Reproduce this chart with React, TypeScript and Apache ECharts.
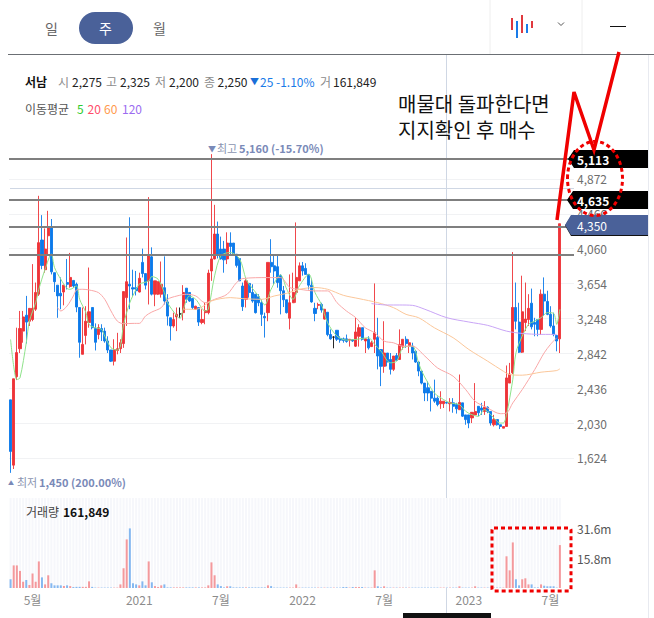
import React, { useEffect, useRef } from "react";
import * as echarts from "echarts";

const FONT = '"Noto Sans CJK KR", "Noto Sans", sans-serif';

const priceTicks = { min: 1218, max: 5278, step: 406 };
const volumeTicks = { max: 47.4, step: 15.8 };
const slotCount = 180;

const tickIndexes = [7, 41, 67, 93, 119, 146, 172];
const tickLabels = ["5월", "2021", "7월", "2022", "7월", "2023", "7월"];

const resistanceLevels = [5106, 4628, 4314, 3988];

// open, close, low, high
const candles: number[][] = [
  [2300, 1700, 1450, 2300], [1540, 2545, 1495, 2545], [2570, 2850, 2530, 3140], [2895, 3130, 2845, 3335],
  [3100, 3265, 2965, 3335], [3285, 3205, 2955, 3510], [3215, 3365, 3160, 3365], [3235, 3365, 3215, 3880],
  [3355, 3550, 3335, 3665], [3530, 4130, 3510, 4675], [4160, 3865, 3820, 4450], [3815, 4055, 3780, 4295],
  [4210, 4315, 3995, 4500], [4315, 3790, 3760, 4405], [3780, 3675, 3555, 3780], [3635, 3510, 3255, 3635],
  [3540, 3510, 3355, 3725], [3555, 3635, 3400, 3635], [3665, 3645, 3585, 3940], [3620, 3725, 3605, 4010],
  [3690, 3625, 3605, 3690], [3645, 3380, 3320, 3665], [3375, 2970, 2790, 3375], [2830, 2945, 2830, 3375],
  [3050, 3215, 2945, 3390], [3200, 3325, 3140, 3840], [3375, 3140, 3120, 3375], [3130, 2970, 2875, 3190],
  [3060, 3140, 3005, 3180], [3130, 3090, 2985, 3180], [3100, 2985, 2965, 3140], [2985, 2880, 2845, 3040],
  [2880, 2750, 2740, 2880], [2750, 2885, 2700, 3005], [2875, 2895, 2830, 3080], [2895, 2965, 2845, 3005],
  [2955, 3560, 2905, 3560], [3490, 3675, 3160, 4190], [3645, 3625, 3355, 4425], [3605, 3590, 3510, 3815],
  [3605, 3570, 3515, 3800], [3555, 3715, 3550, 3780], [3900, 3770, 3725, 4060], [3770, 3635, 3585, 3770],
  [3685, 3985, 3410, 4660], [3965, 3530, 3515, 4075], [3530, 3685, 3390, 3685], [3530, 3675, 3520, 3680],
  [3530, 3645, 3490, 3910], [3605, 3450, 3410, 3970], [3440, 3275, 3165, 3530], [3255, 3160, 2990, 3255],
  [3160, 3235, 3140, 3315], [3265, 3295, 3100, 3375], [3300, 3300, 3255, 3375], [3315, 3550, 3225, 3635],
  [3600, 3470, 3430, 3600], [3550, 3450, 3440, 3550], [3480, 3375, 3355, 3480], [3355, 3390, 3350, 3395],
  [3375, 3205, 3160, 3375], [3200, 3235, 3180, 3355], [3315, 3340, 3180, 3430], [3315, 3775, 3295, 3815],
  [3800, 3940, 3685, 5160], [3940, 4230, 3935, 4570], [4230, 3995, 3945, 4375], [4055, 3940, 3935, 4200],
  [4055, 3930, 3780, 4150], [3940, 4125, 3880, 4250], [4125, 4085, 3995, 4250], [4125, 3995, 3995, 4125],
  [3995, 3865, 3840, 3995], [3945, 3685, 3685, 3945], [3625, 3385, 3335, 3665], [3470, 3685, 3375, 3705],
  [3655, 3550, 3490, 3655], [3550, 3450, 3430, 3645], [3530, 3315, 3305, 3530], [3500, 3430, 3390, 3530],
  [3430, 3295, 3160, 3470], [3270, 3255, 3025, 3315], [3315, 3900, 3215, 3900], [3900, 3850, 3780, 4170],
  [3860, 3800, 3645, 3995], [3850, 3665, 3605, 3995], [3750, 3570, 3295, 3760], [3570, 3465, 3380, 3625],
  [3465, 3315, 3305, 3465], [3250, 3430, 3120, 3760], [3430, 3550, 3430, 3780], [3550, 3725, 3430, 4365],
  [3685, 3860, 3685, 3900], [3860, 3800, 3745, 3905], [3830, 3760, 3760, 3890], [3760, 3635, 3585, 3760],
  [3635, 3440, 3430, 3710], [3365, 3305, 3215, 3430], [3400, 3410, 3355, 3430], [3410, 3345, 3315, 3430],
  [3240, 3355, 3235, 3355], [3320, 3060, 3040, 3320], [3060, 3010, 3000, 3120], [3030, 3030, 2900, 3040],
  [3110, 3005, 2985, 3110], [3015, 2995, 2965, 3040], [3010, 2990, 2965, 3025], [3010, 2980, 2965, 3060],
  [2995, 3005, 2920, 3005], [3000, 2985, 2975, 3005], [2925, 3090, 2915, 3255], [3040, 3140, 2920, 3180],
  [3140, 3005, 2990, 3140], [2985, 3010, 2845, 3010], [3005, 2905, 2885, 3040], [2920, 2965, 2915, 2985],
  [3005, 3080, 2845, 3655], [3025, 2810, 2655, 3255], [2885, 2690, 2460, 2885], [2690, 2845, 2615, 3215],
  [2845, 2740, 2690, 2845], [2770, 2655, 2595, 2845], [2655, 2810, 2635, 2810], [2815, 2760, 2750, 2845],
  [2770, 2945, 2770, 3120], [2925, 3005, 2885, 3005], [3005, 2955, 2905, 3040], [2925, 2965, 2845, 3005],
  [2925, 2845, 2770, 2965], [2865, 2740, 2730, 2880], [2740, 2635, 2575, 2750], [2635, 2495, 2480, 2635],
  [2495, 2380, 2285, 2495], [2440, 2380, 2285, 2515], [2400, 2320, 2165, 2400], [2320, 2285, 2265, 2535],
  [2320, 2245, 2225, 2340], [2255, 2285, 2195, 2400], [2255, 2285, 2205, 2285], [2270, 2262, 2255, 2280],
  [2255, 2270, 2165, 2320], [2265, 2225, 2150, 2320], [2245, 2195, 2140, 2265], [2185, 2270, 2185, 2595],
  [2265, 2110, 2100, 2265], [2125, 2070, 2010, 2125], [2125, 2030, 1970, 2125], [2090, 2155, 2030, 2155],
  [2125, 2165, 2125, 2495], [2225, 2150, 2110, 2225], [2205, 2180, 2125, 2265], [2165, 2215, 2125, 2285],
  [2215, 2165, 2145, 2225], [2165, 2030, 2000, 2165], [2010, 2070, 1990, 2125], [2070, 2010, 2000, 2070],
  [2010, 1990, 1960, 2010], [1970, 1990, 1970, 1990], [1990, 2555, 1990, 2700], [2495, 2600, 2495, 2730],
  [2615, 3375, 2600, 4020], [3375, 3215, 3120, 3665], [3205, 2855, 2845, 3430], [2855, 3325, 2845, 3745],
  [3200, 3240, 3100, 3665], [3235, 3365, 3160, 3530], [3425, 3150, 3120, 3595], [3200, 3180, 3040, 3255],
  [3235, 3120, 3040, 3235], [3120, 3530, 3055, 3585], [3530, 3450, 3275, 3725], [3445, 3295, 3285, 3570],
  [3295, 3160, 3140, 3390], [3160, 3060, 3040, 3315], [3050, 2985, 2865, 3050], [3010, 4350, 2845, 4350],
];

const volumes: number[] = [
  4.6, 11.9, 11.9, 9, 3.3, 4.2, 1.6, 7.7, 3.3, 14,
  5.6, 1.9, 6.7, 2.5, 1.4, 1.4, 1.4, 1, 1.4, 1,
  0.5, 0.6, 0.6, 0.6, 0.6, 3.5, 0.6, 0.2, 0.2, 0.2,
  0.2, 0.2, 0.2, 0.2, 0.2, 1.9, 10.4, 25.6, 31.4, 2.5,
  1.9, 1.4, 3.5, 1.4, 14, 3, 1, 0.5, 1.4, 1.9,
  0.3, 0.3, 0.3, 0.3, 0.3, 0.3, 0.3, 0.3, 0.3, 0.3,
  0.3, 0.3, 0.3, 1.4, 13.5, 6.7, 1.9, 1, 0.3, 0.9,
  0.9, 0.3, 0.3, 0.3, 0.3, 0.3, 0.3, 0.3, 0.3, 0.3,
  0.3, 0.3, 1.4, 1, 0.2, 0.2, 0.2, 0.2, 0.2, 0.2,
  0.2, 1.9, 0.2, 0.2, 0.2, 0.2, 0.2, 0.2, 0.2, 0.2,
  0.2, 0.2, 0.2, 0.2, 0.2, 0.2, 0.5, 0.5, 0.2, 0.5,
  0.5, 0.5, 0.5, 0.2, 0.2, 0.2, 9.3, 0.9, 0.3, 0.9,
  0.2, 0.2, 0.2, 0.2, 0.2, 0.2, 0.2, 0.2, 0.2, 0.2,
  0.2, 0.2, 0.2, 0.2, 0.2, 0.2, 0.2, 0.2, 0.2, 0.2,
  0.2, 0.2, 0.2, 0.9, 0.2, 0.2, 0.2, 0.2, 0.9, 0.2,
  0.2, 0.2, 0.2, 0.2, 0.2, 0.2, 0.2, 0.2, 16.7, 9.3,
  24, 4.6, 1.4, 4.6, 5.1, 1.9, 1.9, 0.3, 0.3, 1.9,
  1.2, 0.9, 0.9, 0.9, 0.2, 22.6,
];

// moving averages, read as [candle index, price]
const ma5: number[][] = [
  [0, 3003], [1, 2692], [2, 2536], [3, 2556], [5, 2964], [6, 3217], [8, 3431], [9, 3587], [11, 3821], [13, 3996],
  [14, 3840], [16, 3704], [18, 3595], [19, 3587], [21, 3626], [22, 3470], [24, 3315], [25, 3178], [27, 3139],
  [29, 3120], [30, 3042], [32, 2906], [34, 2879], [35, 2925], [36, 3178], [38, 3431], [40, 3587], [41, 3646],
  [44, 3684], [45, 3735], [47, 3704], [49, 3548], [50, 3431], [53, 3276], [54, 3248], [55, 3354], [57, 3509],
  [59, 3470], [62, 3334], [63, 3354], [65, 3743], [67, 3976], [70, 4015], [73, 3938], [75, 3704], [76, 3646],
  [79, 3509], [81, 3404], [83, 3587], [86, 3755], [88, 3587], [90, 3470], [92, 3626], [95, 3762], [97, 3548],
  [99, 3412], [101, 3198], [104, 3042], [107, 2995], [110, 3003], [114, 3023], [116, 2945], [118, 2867],
  [121, 2731], [123, 2750], [125, 2906], [128, 2925], [130, 2731], [131, 2633], [133, 2497], [135, 2380],
  [138, 2302], [140, 2264], [143, 2244], [145, 2166], [147, 2127], [149, 2108], [151, 2186], [153, 2127],
  [156, 2030], [157, 2030], [158, 2127], [160, 2536], [161, 2847], [163, 3042], [165, 3178], [167, 3217],
  [169, 3256], [171, 3315], [173, 3307], [174, 3178], [175, 3354],
];
const ma20: number[][] = [
  [15, 3373], [16, 3334], [18, 3392], [20, 3509], [21, 3579], [23, 3587], [25, 3579], [28, 3548], [30, 3470],
  [32, 3334], [34, 3217], [36, 3186], [39, 3190], [41, 3190], [43, 3276], [45, 3322], [48, 3373], [50, 3470],
  [53, 3509], [56, 3529], [59, 3509], [62, 3431], [65, 3470], [69, 3529], [72, 3665], [74, 3712], [82, 3723],
  [86, 3723], [89, 3607], [92, 3587], [97, 3568], [101, 3568], [104, 3431], [107, 3334], [110, 3256],
  [113, 3139], [116, 3081], [119, 2984], [122, 2964], [125, 2925], [128, 2925], [132, 2809], [136, 2672],
  [141, 2575], [145, 2419], [148, 2283], [152, 2205], [156, 2139], [158, 2147], [160, 2264], [163, 2419],
  [167, 2653], [170, 2847], [172, 2945], [174, 3023],
];
const ma60: number[][] = [
  [55, 3354], [59, 3354], [64, 3451], [67, 3478], [70, 3490], [74, 3478], [80, 3470], [84, 3509], [88, 3540],
  [92, 3587], [97, 3607], [101, 3587], [106, 3517], [111, 3478], [117, 3431], [122, 3373], [126, 3295],
  [130, 3256], [135, 3139], [141, 3023], [146, 2886], [152, 2750], [157, 2633], [159, 2594], [163, 2587],
  [169, 2622], [174, 2641], [175, 2661],
];
const ma120: number[][] = [
  [115, 3420], [120, 3404], [124, 3404], [128, 3400], [132, 3354], [139, 3256], [146, 3206], [152, 3167],
  [158, 3100], [163, 3073], [169, 3062], [174, 3062],
];

const RED = "#ee3338";
const BLUE = "#0b79ea";
const dashRed = { stroke: "#f00000", fill: "none", lineWidth: 3, lineDash: [4, 3] };

function label(text: string, x: number, y: number, fill: string, size = 12, weight = "normal", z = 20) {
  return {
    type: "text", x, y, z, silent: true,
    style: { text, fill, font: `${weight} ${size}px ${FONT}`, verticalAlign: "middle", align: "left" },
  };
}
function stroke(points: number[][], color: string, lineWidth = 1, z = 15) {
  return { type: "polyline", z, silent: true, shape: { points }, style: { stroke: color, lineWidth, fill: "none" } };
}
function iconBar(x: number, y: number, h: number, fill: string) {
  return { type: "rect", z: 20, silent: true, shape: { x, y, width: 2, height: h }, style: { fill } };
}
function maSeries(data: number[][], color: string) {
  return {
    type: "line", data, smooth: 0.3, symbol: "none", z: 4, xAxisIndex: 0, yAxisIndex: 0,
    lineStyle: { color, width: 1 }, silent: true,
  };
}

export default function App() {
  const ref = useRef<HTMLDivElement>(null);
  useEffect(() => {
    const chart = echarts.init(ref.current!, null, { renderer: "svg" });
    const categories = Array.from({ length: slotCount }, (_, i) => String(i));
    const candleData = candles.map((c) =>
      c[0] === c[1]
        ? { value: c, itemStyle: { color: "#111", color0: "#111", borderColor: "#111", borderColor0: "#111" } }
        : { value: c },
    );
    const volData = volumes.map((v, i) => ({
      value: v,
      itemStyle: { color: candles[i][1] >= candles[i][0] ? "#f4999c" : "#85b8f0" },
    }));
    chart.setOption({
      animation: false,
      textStyle: { fontFamily: FONT },
      grid: [
        { left: 9, width: 565, top: 144, height: 348.8 },
        { left: 9, width: 565, top: 498, height: 90 },
      ],
      xAxis: [
        { type: "category", gridIndex: 0, data: categories, axisLine: { show: false }, axisTick: { show: false }, axisLabel: { show: false }, splitLine: { show: false } },
        {
          type: "category", gridIndex: 1, data: categories, axisLine: { show: false }, axisTick: { show: false }, splitLine: { show: false },
          axisLabel: {
            color: "#8c8c8c", fontSize: 12, margin: 5, fontFamily: FONT,
            interval: (i: number) => tickIndexes.includes(i),
            formatter: (_: string, i: number) => tickLabels[tickIndexes.indexOf(i)] ?? "",
          },
        },
      ],
      yAxis: [
        {
          type: "value", gridIndex: 0, position: "right", min: priceTicks.min, max: priceTicks.max, interval: priceTicks.step,
          axisLine: { show: false }, axisTick: { show: false },
          splitLine: { show: true, showMinLine: false, showMaxLine: false, lineStyle: { color: "#f1f2f4", width: 1 } },
          axisLabel: {
            color: "#6e6e6e", fontSize: 12, margin: 3, fontFamily: FONT, showMinLabel: false, showMaxLabel: false,
            formatter: (v: number) => v.toLocaleString("en-US"),
          },
        },
        {
          type: "value", gridIndex: 1, position: "right", min: 0, max: volumeTicks.max, interval: volumeTicks.step,
          axisLine: { show: false }, axisTick: { show: false }, splitLine: { show: false },
          axisLabel: {
            color: "#555", fontSize: 12, margin: 3, fontFamily: FONT, showMinLabel: false, showMaxLabel: false,
            formatter: (v: number) => v.toFixed(1) + "m",
          },
        },
      ],
      series: [
        {
          type: "candlestick", xAxisIndex: 0, yAxisIndex: 0, barWidth: 2.6, data: candleData, z: 2,
          itemStyle: { color: RED, color0: BLUE, borderColor: RED, borderColor0: BLUE, borderWidth: 0.9 },
          markLine: {
            silent: true, symbol: "none", animation: false, z: 5, label: { show: false },
            lineStyle: { color: "#7f7f7f", width: 2, type: "solid" },
            data: resistanceLevels.map((yAxis) => ({ yAxis })),
          },
        },
        maSeries(ma5, "#8fe28b"),
        maSeries(ma20, "#f9a7a7"),
        maSeries(ma60, "#fbc79a"),
        maSeries(ma120, "#c9a5f6"),
        {
          type: "bar", xAxisIndex: 1, yAxisIndex: 1, barWidth: 2, data: volData, silent: true, z: 3,
          showBackground: true, backgroundStyle: { color: "#f6f7fb" },
        },
      ],
      graphic: [
        // header
        { type: "rect", z: 10, silent: true, shape: { x: 79, y: 12, width: 54, height: 32, r: 16 }, style: { fill: "#4a6199" } },
        label("일", 45, 28, "#666", 14),
        label("주", 99, 28, "#fff", 14),
        label("월", 153, 28, "#666", 14),
        stroke([[490, 0], [490, 54]], "#eeeeee"),
        stroke([[582, 0], [582, 54]], "#eeeeee"),
        stroke([[8, 54.5], [654, 54.5]], "#6b6f74"),
        iconBar(511, 18, 12, "#e0393e"), iconBar(516, 21, 17, "#1a7be8"), iconBar(521, 15, 18, "#e0393e"),
        iconBar(526, 24, 9, "#1a7be8"), iconBar(531, 21, 7, "#e0393e"),
        stroke([[558, 22.5], [561, 25.5], [564, 22.5]], "#555"),
        stroke([[610, 26.5], [626, 26.5]], "#111", 1),
        // crosshair and frame
        stroke([[10, 188.5], [574, 188.5]], "#cfd7e4", 1, 1),
        stroke([[446.5, 55], [446.5, 618]], "#cfd7e4", 1, 1),
        stroke([[648.5, 55], [648.5, 618]], "#e8eaf0", 1, 1),
        // quote row
        label("서남", 25, 81, "#111", 12, "bold"),
        label("시", 58, 81, "#8c8c8c"), label("2,275", 72, 81, "#222"),
        label("고", 106, 81, "#8c8c8c"), label("2,325", 120, 81, "#222"),
        label("저", 155, 81, "#8c8c8c"), label("2,200", 169, 81, "#222"),
        label("종", 204, 81, "#8c8c8c"), label("2,250", 217.5, 81, "#222"),
        label("▼", 250, 81, "#1a6fd8", 9), label("25", 260, 81, "#1a7be8"), label("-1.10%", 276, 81, "#1a7be8"),
        label("거", 320, 81, "#8c8c8c"), label("161,849", 333, 81, "#222"),
        label("이동평균", 25, 108, "#555"),
        label("5", 77, 108, "#2ecc2e"), label("20", 87.5, 108, "#ff4d6a"),
        label("60", 104, 108, "#ff9a4d"), label("120", 122, 108, "#9b6cf0"),
        // annotation text
        label("매물대 돌파한다면", 398, 103, "#111", 20),
        label("지지확인 후 매수", 398, 129, "#111", 20),
        // extremes
        label("▼", 208, 148, "#7a8ab8", 8),
        label("최고", 217, 148, "#8a94b0", 11),
        label("5,160 (-15.70%)", 239, 148, "#7a8ab8", 11, "bold"),
        label("▲", 8, 482, "#7a8ab8", 6),
        label("최저", 17, 482, "#8a94b0", 11),
        label("1,450 (200.00%)", 39, 482, "#7a8ab8", 11, "bold"),
        // volume title
        label("거래량", 26, 511, "#444"),
        label("161,849", 63, 511, "#111", 12, "bold"),
        // price tags
        { type: "polygon", z: 16, silent: true, shape: { points: [[568, 159], [574, 150], [648, 150], [648, 168], [574, 168]] }, style: { fill: "#000" } },
        label("5,113", 577, 159, "#fff", 12, "bold", 17),
        { type: "polygon", z: 16, silent: true, shape: { points: [[567, 200], [573, 191], [648, 191], [648, 209], [573, 209]] }, style: { fill: "#000" } },
        label("4,635", 577, 200, "#fff", 12, "bold", 17),
        { type: "polygon", z: 16, silent: true, shape: { points: [[565, 225.5], [571, 216], [648, 216], [648, 236], [571, 236]] }, style: { fill: "#111" } },
        { type: "polygon", z: 16, silent: true, shape: { points: [[565, 225], [571, 215], [648, 215], [648, 235], [571, 235]] }, style: { fill: "#4a6199" } },
        label("4,350", 577, 225, "#fff", 12, "normal", 17),
        // hand-drawn marks
        { type: "polyline", z: 18, silent: true, shape: { points: [[557, 220], [574, 92], [594, 150], [619, 52]] }, style: { stroke: "#f00000", lineWidth: 3.5, fill: "none" } },
        { type: "ellipse", z: 18, silent: true, shape: { cx: 595, cy: 178.5, rx: 27.5, ry: 37 }, style: dashRed },
        { type: "rect", z: 18, silent: true, shape: { x: 492, y: 528, width: 79, height: 63, r: 2 }, style: dashRed },
        // bottom bar
        { type: "rect", z: 18, silent: true, shape: { x: 403, y: 613, width: 88, height: 5 }, style: { fill: "#111" } },
      ],
    });
    return () => chart.dispose();
  }, []);
  return <div ref={ref} style={{ position: "absolute", left: 0, top: 0, width: 654, height: 618, background: "#fff" }} />;
}
